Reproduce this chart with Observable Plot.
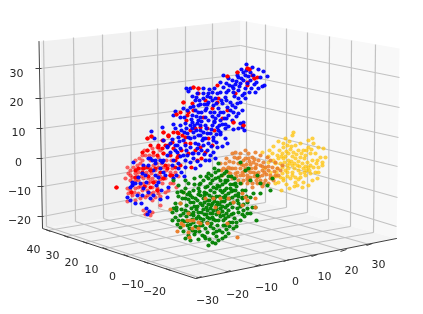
<!DOCTYPE html>
<html>
<head>
<meta charset="utf-8">
<script src="https://cdn.jsdelivr.net/npm/d3@7"></script>
<script src="https://cdn.jsdelivr.net/npm/@observablehq/plot@0.6"></script>
<style>
html,body{margin:0;padding:0;background:#fff}
svg{display:block;filter:blur(0.35px)}
</style>
</head>
<body>
<div id="chart"></div>
<script>
// Tick values of the three axes
const xTicks = [-30,-20,-10,0,10,20,30];
const yTicks = [40,30,20,10,0,-10,-20];
const zTicks = [30,20,10,0,-10,-20];

// Projected (picture-plane) geometry of the box
const leftPane  = [[40,41],[240,20],[240,196],[42,228]];
const rightPane = [[240,20],[399,48],[396,238],[240,196]];
const floorPane = [[42,228],[195,278],[396,238],[240,196]];

const xGridWallTop = [[43,40],[73,37],[102,34],[130,31],[157,28],[185,26],[212,23]];
const xGridWallBot = [[46,226],[75,221],[103,218],[131,213],[158,208],[185,204],[212,200]];
const xAxisPos     = [[198,277],[227,271],[257,265],[286,260],[314,255],[343,250],[369,244]];
const yAxisPos     = [[47,230],[65,236],[84,242],[104,248],[125,255],[145,262],[167,269]];
const yGridWallBot = [[246,197],[265,202],[286,207],[307,212],[328,219],[350,226],[373,232]];
const yGridWallTop = [[246,21],[265,24],[286,28],[307,32],[329,36],[351,40],[375,44]];
const zAxisPos     = [[40,68],[40,98],[41,128],[41,158],[42,186],[42,216]];
const zGridBack    = [[240,45],[240,74],[240,102],[240,128],[240,153],[240,178]];
const zGridRight   = [[399,77],[399,107],[398,137],[397,166],[397,197],[396,226]];

const xLabelPos = [[207,300],[237,294],[266,287],[295,281],[324,276],[351,270],[378,264]];
const yLabelPos = [[33,249],[52,255],[71,262],[91,269],[112,276],[132,284],[154,291]];
const zLabelPos = [[16,73],[16,102],[18,132],[18,162],[19,191],[19,220]];

// Scatter clusters, projected coordinates
const yellowPts = [[293,132],[292,135],[285,138],[289,141],[278,141],[273,146],[269,150],[283,147],[287,145],[295,145],[300,143],[308,140],[312,138],[313,143],[318,147],[323,148],[308,147],[303,150],[298,150],[293,152],[288,153],[282,153],[277,155],[272,153],[268,162],[273,160],[278,158],[283,158],[288,160],[295,158],[300,157],[305,155],[310,153],[315,153],[320,157],[325,157],[322,162],[317,160],[312,160],[307,162],[302,163],[297,165],[292,165],[287,165],[282,167],[277,168],[282,173],[287,172],[292,172],[298,170],[303,168],[308,167],[313,167],[318,167],[322,165],[315,172],[310,173],[305,175],[300,177],[295,177],[290,178],[283,178],[278,182],[275,183],[283,180],[281,190],[289,188],[302,187],[308,185],[312,180],[317,178],[303,182],[295,182],[318,172],[290,149],[296,154],[304,158],[291,161],[285,170],[300,173],[306,170],[294,168],[279,150],[275,163],[268,156],[262,152],[264,168],[270,172],[276,176],[183,192],
[286,151],[281,156],[285,156],[292,156],[298,161],[301,153],[306,150],[311,149],[316,163],[310,165],[305,166],[299,166],[294,163],[289,163],[284,162],[280,163],[276,172],[280,177],[287,176],[292,175],[298,179],[304,172],[309,170],[294,186],[286,184],[297,185],[283,143],[291,146],[288,168],[273,177]];

const orangeFar = [[220,163],[225,163],[223,168],[228,167],[232,153],[235,152],[237,158],[233,162],[232,168],[230,173],[235,173],[240,168],[243,165],[248,153],[248,158],[253,162],[258,160],[263,162],[270,160],[272,167],[277,168],[280,170],[268,170],[262,170],[255,168],[248,170],[243,175],[250,177],[257,177],[262,175],[265,180],[257,183],[252,183],[247,183],[243,180],[238,180],[265,167],[252,157],[240,153],[255,167],[260,165],[245,158],[238,163],[275,175],[270,175],[273,180],[253,172],[258,172],[247,175],[240,175],[235,168],[263,183],[228,172],[226,158],[243,160],[250,164],[266,174],[260,180],[254,176],[245,168],[237,172],[232,178],[222,175],[267,157],[260,155],[245,150],[255,152],
[242,172],[246,164],[251,168],[256,164],[262,166],[268,166],[274,171],[250,172],[256,180],[252,187],[247,178],[241,183],[236,176],[230,168],[226,169],[221,170],[239,157],[234,157],[229,161],[241,164],[249,161],[254,159],[264,172],[259,176],[270,178],[268,183],[262,186],[255,173],[244,171],[248,180],[278,175],[282,165],[275,162]];

const redFar = [[125,178],[127,167],[130,170],[133,167],[137,165],[140,163],[142,155],[147,150],[152,148],[157,147],[142,160],[145,167],[150,168],[153,165],[158,167],[163,167],[168,165],[138,172],[135,173],[130,175],[127,188],[130,190],[135,188],[138,187],[143,183],[148,183],[152,187],[157,188],[162,183],[165,178],[152,178],[157,175],[138,193],[135,200],[127,201],[145,197],[152,200],[160,205],[143,210],[147,212],[152,212],[150,215],[145,214],[130,180],[135,180],[143,178],[138,180],[148,178],[142,190],[147,190],[153,192],[158,193],[165,192],[163,153],[168,155],[158,157],[153,155],[160,150],[132,195],[141,176],[146,172],[155,170],[160,176],[170,172],[173,183],[168,190],[140,198],[150,160],[145,155],[135,160],
[128,173],[132,177],[136,169],[141,168],[147,175],[151,173],[156,163],[161,163],[166,160],[171,160],[175,172],[178,176],[147,195],[150,193],[155,197],[160,196],[132,185],[128,193],[134,192],[140,186],[145,186],[150,181],[155,181],[160,179],[170,183],[176,187],[166,170],[172,168],[137,176],[149,155],[139,158],[144,150]];

const redNear = [[116,187],[147,138],[168,136],[162,140],[177,132],[182,135],[190,130],[185,143],[173,148],[158,147],[168,145],[178,155],[143,168],[150,170],[142,172],[153,182],[150,187],[157,190],[163,178],[170,175],[167,168],[175,167],[160,172],[147,167],
[183,102],[180,112],[187,115],[188,112],[193,110],[163,132],[168,135],[173,132],[151,136],[178,133],[185,137],[163,140],[158,145],[162,148],[150,145],[142,152],[147,150],[153,152],[157,155],[163,153],[170,155],[177,157],[188,153],[200,147],[205,152],[212,145],[197,160],
[247,68],[249,69],[254,78],[227,76],[237,72],[247,85],[217,85],[198,88],[193,87],[198,93],[192,103],[176,114],[233,122],[243,125],[235,93],[227,110],[218,98],[203,117],[195,128],[200,127],[207,128],[217,102],[252,75],[247,82],[257,77],
[186,120],[190,143],[195,150],[181,150],[172,142],[175,160],[165,165],[155,168],[148,176],[138,168],[135,177],[131,192],[144,186],[172,175],[180,165],[191,167],[201,158],[208,138],[214,130],[222,118],[212,108],[205,100],[165,145],[135,170]];

const bluePts = [[246,64],[252,67],[258,69],[263,71],[267,76],[260,77],[262,86],[264,85],[258,88],[255,92],[251,88],[254,84],[247,83],[243,80],[248,76],[243,72],[238,77],[232,80],[223,75],[228,78],[237,75],[250,72],[253,75],[241,69],[246,70],[235,84],[240,83],[229,85],[245,88],[250,80],
[186,88],[190,88],[188,91],[197,93],[203,93],[208,93],[212,92],[217,93],[220,92],[223,87],[228,90],[233,92],[238,90],[242,95],[245,98],[240,102],[242,110],[235,107],[230,102],[225,97],[203,98],[208,102],[213,105],[218,108],[223,112],[228,115],[222,103],[227,107],[215,98],[206,108],[200,104],[195,110],[210,112],[205,117],[215,118],[220,120],[212,125],[205,125],[198,120],[192,115],[190,125],[196,130],[203,132],[210,133],[218,130],[225,124],[232,120],[236,116],[230,110],[238,98],[234,96],[226,92],[214,112],[207,96],[201,112],
[240,123],[243,122],[242,127],[244,130],[238,128],[225,128],[220,134],[217,127],[225,138],[227,143],[220,132],[217,147],[213,140],[207,150],[210,155],
[151,131],[154,138],[162,127],[173,115],[175,111],[180,117],[183,108],[173,124],[180,125],[185,123],[190,107],[198,105],[192,122],[197,123],[200,130],[193,132],[187,133],[183,140],[190,138],[195,143],[202,140],[207,133],[213,137],[203,145],[197,148],[190,147],[185,145],[177,145],[170,143],[167,146],[163,140],[177,152],[183,155],[192,153],[198,153],[170,152],[155,160],[150,158],[133,162],[162,162],[173,160],[185,160],[197,161],[205,160],
[148,158],[152,160],[155,163],[160,160],[163,160],[167,147],[175,145],[180,148],[187,155],[193,153],[142,173],[145,175],[155,175],[163,172],[158,177],[132,182],[135,183],[132,185],[143,188],[148,192],[153,195],[158,182],[127,197],[130,200],[142,195],[135,203],[141,203],[146,208],[149,211],[147,214],[160,199],[167,197],[178,168],[185,167],[190,162],[168,187],[173,178],
[212,100],[195,100],[205,110],[218,115],[224,118],[200,117],[208,120],[214,122],[186,128],[194,137],[200,125],[205,138],[211,146],[216,142],[222,146],[194,125],[200,135],[184,132],[178,137],[175,150],[204,154],[198,144],
[232,86],[236,81],[241,78],[245,75],[256,82],[249,92],[244,93],[239,86],[233,88],[226,83],[220,82],[214,88],[209,89],[203,88],[196,97],[192,96],[199,100],[204,104],[210,97],[216,103],[221,100],[226,100],[232,105],[237,103],[233,112],[238,113],[226,118],[220,112],[212,116],[207,104],[198,112],[193,106],[187,110],[184,117],[191,119],[196,116],[201,121],[206,128],[211,129],[216,134],[222,124],[228,126],[233,129],[214,121],[219,125],[188,137],[192,128],[198,135],[203,138],[181,130],[175,128],[179,141],[172,139],[167,155],[180,156],[186,150],[193,158],[201,150],[208,143],[213,152],[209,160],[215,158],[172,165],[178,163],[160,168],[165,175],[146,182],[153,170],[148,165],[143,165],[138,177],[130,187],[140,183],[156,185],[161,190],[150,198],[137,195],[181,172],[176,175],[195,168],[200,165],[184,176]];

// A few reds that sit in front of the blue cloud in the reference
const redFront = [[116,187],[247,68],[249,69],[254,78],[237,72],[227,76],[233,122],[243,125],[183,102],[176,114],[163,132],[151,136],[147,138],[168,135],[198,88],[193,87],[157,190],[153,182],[163,178],[170,175],[143,168],[150,170]];

const greenPts = [[208,178],[212,180],[220,180],[225,182],[217,185],[205,187],[198,188],[193,190],[200,195],[195,198],[190,202],[185,198],[180,203],[175,203],[172,212],[175,217],[172,220],[178,220],[183,213],[188,212],[193,215],[198,212],[202,205],[207,200],[212,203],[217,202],[223,197],[228,193],[233,190],[238,193],[242,198],[247,202],[252,207],[255,207],[250,213],[256,220],[233,213],[240,220],[232,222],[233,228],[225,225],[222,232],[218,240],[222,238],[213,233],[208,245],[212,242],[205,238],[202,235],[197,227],[185,238],[188,235],[192,230],[202,225],[207,222],[212,217],[218,220],[223,215],[228,210],[237,208],[243,210],[225,207],[220,208],[213,210],[207,210],[200,218],[193,222],[187,225],[180,227],
[208,173],[215,172],[203,180],[185,180],[173,180],[178,185],[185,188],[190,195],[218,163],[218,170],[227,180],[235,183],[240,162],[248,168],[245,170],[257,175],[267,185],[272,178],[260,183],[260,193],[270,190],[250,180],[225,180],[230,184],[235,190],[242,197],
[197,200],[203,198],[209,195],[214,192],[220,190],[226,188],[232,197],[237,200],[230,203],[224,201],[219,196],[214,198],[208,204],[203,209],[197,206],[191,208],[186,205],[181,209],[176,210],[186,216],[192,219],[198,216],[204,214],[210,213],[216,214],[222,211],[228,216],[234,218],[229,222],[223,220],[217,225],[211,223],[205,228],[199,231],[194,234],[207,232],[213,228],[219,230],[226,229],[238,212],[243,204],[247,208],[250,197],[242,190],[236,186],[229,198],[222,192],[216,196],[210,190],[204,192],[199,184],[194,184],[189,192],[183,192],[178,196],[210,183],[215,178],[221,175],[226,171],[231,176],[216,205],[210,208],[204,202],[198,194],[192,197],[182,220],[189,228],[195,226],[203,219],[209,218],[215,220],[220,216],[226,213],[232,207],[238,203],[212,197],[206,193],[200,203],[194,206],[188,199],[219,204],[225,195],[231,191],[216,188],[222,184],[204,236],[209,239],[216,236],[228,233],[236,226],[244,216],[246,196],[253,193],[240,183],[234,178],[228,176],[214,168],[211,175],[200,176],[194,178],[188,183],[181,191],[176,207],[177,224],[183,231],[190,240],[198,239],[215,243],[225,236],
[206,176],[200,183],[207,186],[213,187],[219,186],[224,190],[230,188],[235,195],[226,198],[221,201],[216,208],[211,205],[206,207],[201,212],[196,209],[190,214],[185,210],[180,215],[184,221],[190,224],[196,218],[201,222],[207,217],[213,219],[219,213],[225,218],[231,214],[236,222],[242,214],[247,213],[240,206],[233,202],[227,205],[222,206],[217,211],[212,213],[206,214],[200,225],[195,231],[210,226],[216,231],[223,225],[229,226],[204,195],[209,200],[214,201],[199,191],[193,202],[187,194],[182,198],[177,192],[193,212],[187,221],[173,208],[218,177],[224,173],[233,184],[238,196],[245,190]];

const orangeNear = [[180,203],[170,209],[177,231],[181,223],[187,220],[190,220],[193,220],[198,222],[200,223],[207,223],[198,228],[192,228],[188,232],[183,225],[189,237],[237,237],[215,207],[228,198],[220,198],[213,198],[205,198],[242,193],[247,200],[255,198],[245,197],[255,207],[233,202],[227,223],[218,212],[188,213],[242,205]];

const toRows = (pts) => pts.map(([x, y]) => ({x, y}));
const tickRows = (vals, pos) => vals.map((v, i) => ({
  label: String(v).replace("-", "\u2212"), x: pos[i][0], y: pos[i][1]
}));
const linkRows = (a, b) => a.map((p, i) => ({x1: p[0], y1: p[1], x2: b[i][0], y2: b[i][1]}));
const px = {x: "x", y: "y"};
const lnk = {x1: "x1", y1: "y1", x2: "x2", y2: "y2"};
const grid = {stroke: "#c2c2c2", strokeWidth: 1.2};

const dots = (pts, fill, fillOpacity) =>
  Plot.dot(toRows(pts), {...px, r: 2.1, fill, fillOpacity, stroke: "none"});
const pane = (pts, fill) =>
  Plot.line(pts, {x: (d) => d[0], y: (d) => d[1], fill, stroke: "none"});
const labels = (vals, pos) =>
  Plot.text(tickRows(vals, pos), {...px, text: "label", fontSize: 11, fontFamily: "DejaVu Sans", fill: "#262626"});

const chart = Plot.plot({
  width: 423,
  height: 314,
  margin: 0,
  x: {domain: [0, 423], range: [0, 423], axis: null},
  y: {domain: [0, 314], range: [0, 314], axis: null},
  marks: [
    pane(leftPane, "#f1f1f1"),
    pane(rightPane, "#f8f8f8"),
    pane(floorPane, "#f4f4f4"),
    Plot.link(linkRows(xGridWallTop, xGridWallBot), {...lnk, ...grid}),
    Plot.link(linkRows(xGridWallBot, xAxisPos), {...lnk, ...grid}),
    Plot.link(linkRows(yAxisPos, yGridWallBot), {...lnk, ...grid}),
    Plot.link(linkRows(yGridWallBot, yGridWallTop), {...lnk, ...grid}),
    Plot.link(linkRows(zAxisPos, zGridBack), {...lnk, ...grid}),
    Plot.link(linkRows(zGridBack, zGridRight), {...lnk, ...grid}),
    Plot.line([[38.5,41],[42,228],[195,278],[396,238]], {x: (d) => d[0], y: (d) => d[1], stroke: "#404040", strokeWidth: 1}),
    Plot.link(zAxisPos, {x1: (d) => d[0] - 5, y1: (d) => d[1], x2: (d) => d[0] + 1, y2: (d) => d[1], stroke: "#404040"}),
    Plot.link(yAxisPos, {x1: (d) => d[0] - 2, y1: (d) => d[1] - 1, x2: (d) => d[0] + 3, y2: (d) => d[1] + 1, stroke: "#404040"}),
    Plot.link(xAxisPos, {x1: (d) => d[0] - 3, y1: (d) => d[1] + 1, x2: (d) => d[0] + 3, y2: (d) => d[1] - 1, stroke: "#404040"}),
    dots(redFar, "#ff0000", 0.6),
    dots(redNear, "#ff0000", 1),
    dots(bluePts, "#0000ff", 0.95),
    dots(redFront, "#ff0000", 1),
    dots(yellowPts, "#ffc000", 0.72),
    dots(orangeFar, "#e97a25", 0.85),
    dots(greenPts, "#008000", 0.95),
    dots(orangeNear, "#e97a25", 0.95),
    labels(xTicks, xLabelPos),
    labels(yTicks, yLabelPos),
    labels(zTicks, zLabelPos)
  ]
});
document.getElementById("chart").append(chart);
</script>
</body>
</html>
